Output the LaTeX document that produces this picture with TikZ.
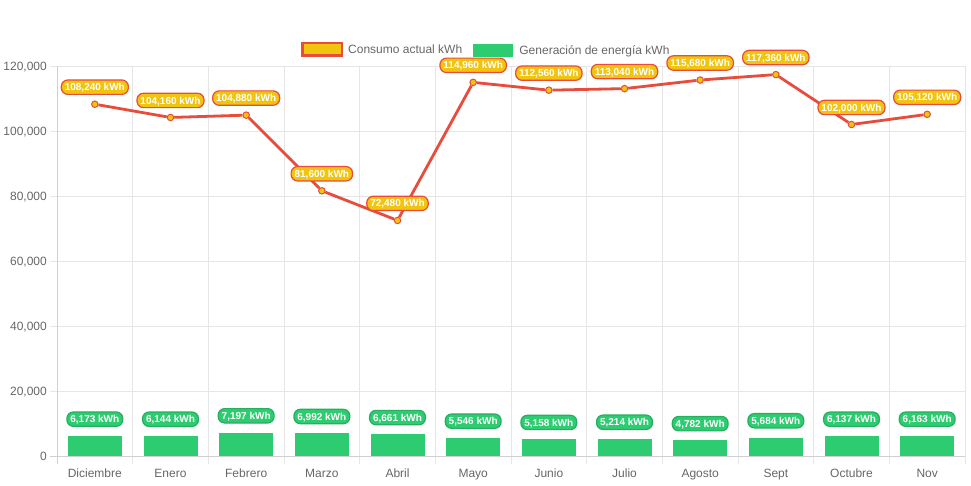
\documentclass[tikz,border=0pt]{standalone}
\usepackage{fontspec}
\setmainfont{Liberation Sans}
\usepackage{tikz}
\usetikzlibrary{positioning}

\definecolor{linered}{HTML}{E74C3C}
\definecolor{sunyellow}{HTML}{F1C40F}
\definecolor{bargreen}{HTML}{2ECC71}
\definecolor{darkgreen}{HTML}{27AE60}
\definecolor{gridgray}{HTML}{E6E6E6}
\definecolor{axisgray}{HTML}{D0D0D0}
\definecolor{ticktext}{HTML}{666666}

\begin{document}
\begin{tikzpicture}[x=1pt,y=1pt,
  gridline/.style={draw=gridgray,line width=0.8pt},
  axisline/.style={draw=axisgray,line width=0.8pt},
  ticklabel/.style={anchor=east,inner sep=0pt,text=ticktext,font=\fontsize{12}{14}\selectfont,text height=8.6pt,text depth=0pt},
  monthlabel/.style={inner sep=0pt,text=ticktext,font=\fontsize{12}{14}\selectfont,text height=8.6pt,text depth=0pt},
  legendtext/.style={monthlabel,anchor=west},
  kwhpoint/.style={circle,draw=linered,fill=sunyellow,line width=1pt,inner sep=0pt,minimum size=6.5pt},
  consumolabel/.style={rounded corners=6.5pt,draw=linered,fill=sunyellow,line width=1.2pt,text=white,
    font=\bfseries\fontsize{10}{12}\selectfont,inner xsep=3.5pt,inner ysep=3.6pt,text height=7.2pt,text depth=0pt},
  genlabel/.style={consumolabel,draw=darkgreen,fill=bargreen},
  genbar/.style={fill=bargreen,anchor=south,minimum width=54pt,inner sep=0pt,outer sep=0pt}]

  \useasboundingbox (0,0) rectangle (971,485);

  % legend
  \node[draw=linered,line width=2.5pt,fill=sunyellow,minimum width=39.5pt,minimum height=12.5pt,inner sep=0pt] (key1) at (322,435.5) {};
  \node[legendtext,right=5pt of key1] (txt1) {Consumo actual kWh};
  \node[fill=bargreen,minimum width=40pt,minimum height=13pt,inner sep=0pt] (key2) at (492.5,434.5) {};
  \node[legendtext,right=6.5pt of key2] (txt2) {Generación de energía kWh};

  \begin{scope}[shift={(57pt,29pt)},x=75.667pt,y=3.25pt]

    % grid and axes
    \foreach \v/\t in {20/{20,000},40/{40,000},60/{60,000},80/{80,000},100/{100,000},120/{120,000}}{
      \draw[gridline] ([xshift=-7pt]0,\v) -- (12,\v);
      \node[ticklabel] at ([xshift=-10pt]0,\v) {\t};
    }
    \foreach \i in {1,...,12}
      \draw[gridline] ([yshift=-8pt]\i,0) -- (\i,120);
    \draw[axisline] ([yshift=-8pt]0,0) -- (0,120);
    \draw[axisline] ([xshift=-7pt]0,0) -- (12,0);
    \node[ticklabel] at ([xshift=-10pt]0,0) {0};

    % months
    \node[monthlabel] (m1) at ([yshift=-17pt]0.5,0) {Diciembre};
    \node[monthlabel] (m2) at ([yshift=-17pt]1.5,0) {Enero};
    \node[monthlabel] (m3) at ([yshift=-17pt]2.5,0) {Febrero};
    \node[monthlabel] (m4) at ([yshift=-17pt]3.5,0) {Marzo};
    \node[monthlabel] (m5) at ([yshift=-17pt]4.5,0) {Abril};
    \node[monthlabel] (m6) at ([yshift=-17pt]5.5,0) {Mayo};
    \node[monthlabel] (m7) at ([yshift=-17pt]6.5,0) {Junio};
    \node[monthlabel] (m8) at ([yshift=-17pt]7.5,0) {Julio};
    \node[monthlabel] (m9) at ([yshift=-17pt]8.5,0) {Agosto};
    \node[monthlabel] (m10) at ([yshift=-17pt]9.5,0) {Sept};
    \node[monthlabel] (m11) at ([yshift=-17pt]10.5,0) {Octubre};
    \node[monthlabel] (m12) at ([yshift=-17pt]11.5,0) {Nov};

    % generation bars
    \node[genbar,minimum height=20.06pt] (b1) at (0.5,0) {};
    \node[genbar,minimum height=19.97pt] (b2) at (1.5,0) {};
    \node[genbar,minimum height=23.39pt] (b3) at (2.5,0) {};
    \node[genbar,minimum height=22.72pt] (b4) at (3.5,0) {};
    \node[genbar,minimum height=21.65pt] (b5) at (4.5,0) {};
    \node[genbar,minimum height=18.02pt] (b6) at (5.5,0) {};
    \node[genbar,minimum height=16.76pt] (b7) at (6.5,0) {};
    \node[genbar,minimum height=16.95pt] (b8) at (7.5,0) {};
    \node[genbar,minimum height=15.54pt] (b9) at (8.5,0) {};
    \node[genbar,minimum height=18.47pt] (b10) at (9.5,0) {};
    \node[genbar,minimum height=19.95pt] (b11) at (10.5,0) {};
    \node[genbar,minimum height=20.03pt] (b12) at (11.5,0) {};

    \node[genlabel,above=9pt of b1] (g1) {6,173 kWh};
    \node[genlabel,above=9pt of b2] (g2) {6,144 kWh};
    \node[genlabel,above=9pt of b3] (g3) {7,197 kWh};
    \node[genlabel,above=9pt of b4] (g4) {6,992 kWh};
    \node[genlabel,above=9pt of b5] (g5) {6,661 kWh};
    \node[genlabel,above=9pt of b6] (g6) {5,546 kWh};
    \node[genlabel,above=9pt of b7] (g7) {5,158 kWh};
    \node[genlabel,above=9pt of b8] (g8) {5,214 kWh};
    \node[genlabel,above=9pt of b9] (g9) {4,782 kWh};
    \node[genlabel,above=9pt of b10] (g10) {5,684 kWh};
    \node[genlabel,above=9pt of b11] (g11) {6,137 kWh};
    \node[genlabel,above=9pt of b12] (g12) {6,163 kWh};

    % consumption line
    \node[kwhpoint] (p1) at (0.5,108.24) {};
    \node[kwhpoint] (p2) at (1.5,104.16) {};
    \node[kwhpoint] (p3) at (2.5,104.88) {};
    \node[kwhpoint] (p4) at (3.5,81.6) {};
    \node[kwhpoint] (p5) at (4.5,72.48) {};
    \node[kwhpoint] (p6) at (5.5,114.96) {};
    \node[kwhpoint] (p7) at (6.5,112.56) {};
    \node[kwhpoint] (p8) at (7.5,113.04) {};
    \node[kwhpoint] (p9) at (8.5,115.68) {};
    \node[kwhpoint] (p10) at (9.5,117.36) {};
    \node[kwhpoint] (p11) at (10.5,102.0) {};
    \node[kwhpoint] (p12) at (11.5,105.12) {};

    \draw[linered,line width=2.8pt] (p1) -- (p2) -- (p3) -- (p4) -- (p5) -- (p6) -- (p7)
      -- (p8) -- (p9) -- (p10) -- (p11) -- (p12);

    \node[consumolabel,above=5.5pt of p1] (l1) {108,240 kWh};
    \node[consumolabel,above=5.5pt of p2] (l2) {104,160 kWh};
    \node[consumolabel,above=5.5pt of p3] (l3) {104,880 kWh};
    \node[consumolabel,above=5.5pt of p4] (l4) {81,600 kWh};
    \node[consumolabel,above=5.5pt of p5] (l5) {72,480 kWh};
    \node[consumolabel,above=5.5pt of p6] (l6) {114,960 kWh};
    \node[consumolabel,above=5.5pt of p7] (l7) {112,560 kWh};
    \node[consumolabel,above=5.5pt of p8] (l8) {113,040 kWh};
    \node[consumolabel,above=5.5pt of p9] (l9) {115,680 kWh};
    \node[consumolabel,above=5.5pt of p10] (l10) {117,360 kWh};
    \node[consumolabel,above=5.5pt of p11] (l11) {102,000 kWh};
    \node[consumolabel,above=5.5pt of p12] (l12) {105,120 kWh};

  \end{scope}

\end{tikzpicture}
\end{document}
